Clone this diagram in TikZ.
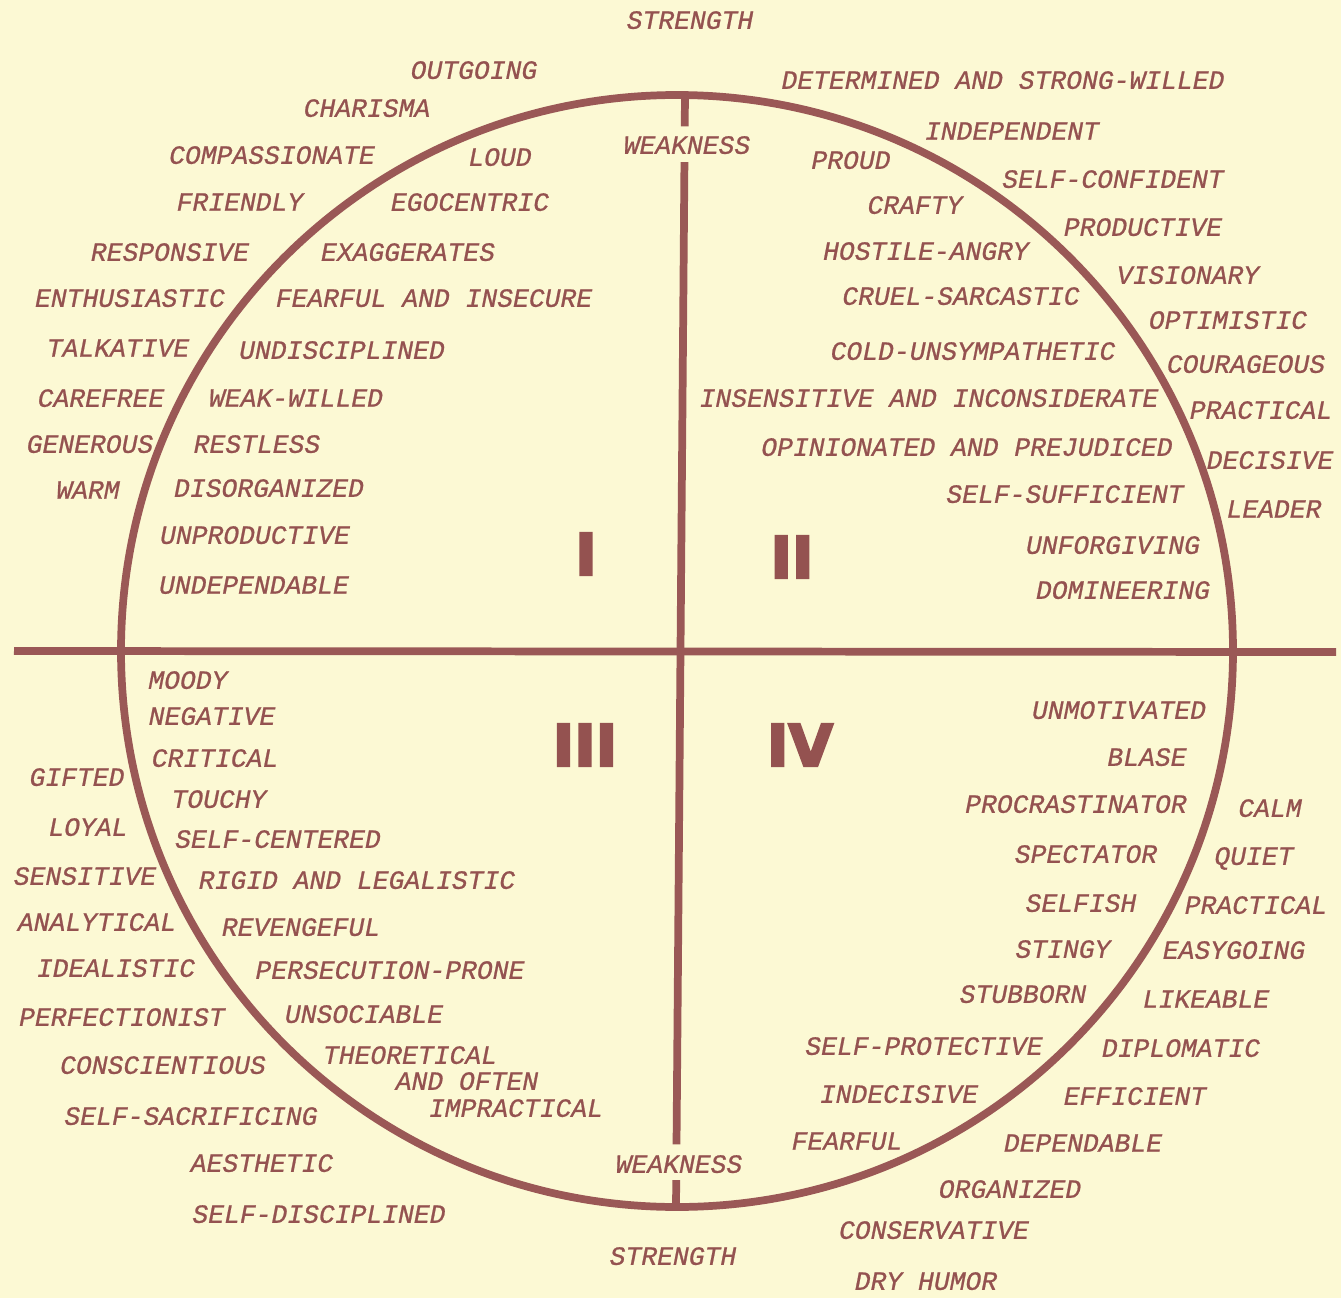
\documentclass[tikz,border=0pt]{standalone}
\usepackage{fontspec}
\setmonofont{Liberation Mono}[ItalicFeatures={FakeBold=0.8}]
\newfontfamily\numfont{DejaVu Sans}[BoldFeatures={FakeBold=4}]
\usepackage{tikz}
\usetikzlibrary{calc}
\definecolor{tcpaper}{HTML}{FCF9D4}
\definecolor{tcink}{HTML}{945250}
\definecolor{tcline}{HTML}{9A5856}

\begin{document}
\begin{tikzpicture}[x=0.1mm,y=-0.1mm,
  trait/.style={font=\ttfamily\itshape\fontsize{7.5}{9}\selectfont,text=tcink,inner sep=0pt,text depth=0pt},
  quad/.style={font=\numfont\bfseries\fontsize{16.4}{18}\selectfont,text=tcink,inner sep=0pt},
  axis/.style={draw=tcline,line width=2.2pt}]
\fill[tcpaper] (0,0) rectangle (1341,1298);
\coordinate (ctr) at (677,651);
\coordinate (hl) at (14,651);
\coordinate (hr) at (1336,652);
\coordinate (vtop) at (685,93);
\coordinate (vbot) at (676,1208);
\draw[axis] (ctr) circle[radius=55.6mm];
\draw[axis] (hl) -- (hr);
\draw[axis] (vtop) -- ($(vtop)!0.03!(vbot)$)
  ($(vtop)!0.062!(vbot)$) -- ($(vtop)!0.943!(vbot)$)
  ($(vtop)!0.975!(vbot)$) -- (vbot);
\node[trait] (strT) at (690,20) {STRENGTH};
\node[trait] (wkT) at (687,145) {WEAKNESS};
\node[trait] (wkB) at (679,1164) {WEAKNESS};
\node[trait] (strB) at (673,1256) {STRENGTH};
\node[quad] (qI) at (586,554) {I};
\node[quad] (qII) at (792,557) {II};
\node[quad] (qIII) at (585,745) {III};
\node[quad] (qIV) at (800,745) {IV};
\foreach \x/\y/\t [count=\i] in {474/70/OUTGOING,
  367/108/CHARISMA,272/155/COMPASSIONATE,500/157/LOUD,
  240/202/FRIENDLY,470/202/EGOCENTRIC,170/252/RESPONSIVE,
  408/252/EXAGGERATES,130/298/ENTHUSIASTIC,434/298/FEARFUL AND INSECURE,
  118/348/TALKATIVE,342/350/UNDISCIPLINED,101/398/CAREFREE,
  296/398/WEAK-WILLED,90/444/GENEROUS,257/444/RESTLESS,
  88/490/WARM,269/488/DISORGANIZED,255/535/UNPRODUCTIVE,
  254/585/UNDEPENDABLE}
  \node[trait] (ul\i) at (\x,\y) {\t};
\foreach \x/\y/\t [count=\i] in {1003/80/DETERMINED AND STRONG-WILLED,
  1012/131/INDEPENDENT,851/160/PROUD,1113/179/SELF-CONFIDENT,
  915/205/CRAFTY,1143/227/PRODUCTIVE,926/251/HOSTILE-ANGRY,
  1188/275/VISIONARY,961/296/CRUEL-SARCASTIC,1228/320/OPTIMISTIC,
  973/351/COLD-UNSYMPATHETIC,1246/364/COURAGEOUS,
  929/398/INSENSITIVE AND INCONSIDERATE,1261/410/PRACTICAL,
  967/447/OPINIONATED AND PREJUDICED,1270/460/DECISIVE,
  1065/494/SELF-SUFFICIENT,1274/509/LEADER,1113/545/UNFORGIVING,
  1123/590/DOMINEERING}
  \node[trait] (ur\i) at (\x,\y) {\t};
\foreach \x/\y/\t [count=\i] in {188/680/MOODY,
  212/716/NEGATIVE,215/758/CRITICAL,77/777/GIFTED,219/799/TOUCHY,
  88/827/LOYAL,278/839/SELF-CENTERED,85/876/SENSITIVE,
  357/880/RIGID AND LEGALISTIC,97/922/ANALYTICAL,301/927/REVENGEFUL,
  116/968/IDEALISTIC,390/970/PERSECUTION-PRONE,122/1017/PERFECTIONIST,
  364/1014/UNSOCIABLE,163/1065/CONSCIENTIOUS,410/1055/THEORETICAL,
  467/1081/AND OFTEN,516/1108/IMPRACTICAL,191/1116/SELF-SACRIFICING,
  262/1163/AESTHETIC,319/1214/SELF-DISCIPLINED}
  \node[trait] (ll\i) at (\x,\y) {\t};
\foreach \x/\y/\t [count=\i] in {1119/710/UNMOTIVATED,
  1147/757/BLASE,1076/804/PROCRASTINATOR,1270/808/CALM,
  1086/854/SPECTATOR,1254/856/QUIET,1081/903/SELFISH,
  1256/905/PRACTICAL,1063/949/STINGY,1234/950/EASYGOING,
  1023/994/STUBBORN,1206/999/LIKEABLE,924/1046/SELF-PROTECTIVE,
  1181/1048/DIPLOMATIC,899/1094/INDECISIVE,1135/1096/EFFICIENT,
  847/1141/FEARFUL,1083/1143/DEPENDABLE,1010/1189/ORGANIZED,
  934/1230/CONSERVATIVE,926/1281/DRY HUMOR}
  \node[trait] (lr\i) at (\x,\y) {\t};
\end{tikzpicture}
\end{document}
